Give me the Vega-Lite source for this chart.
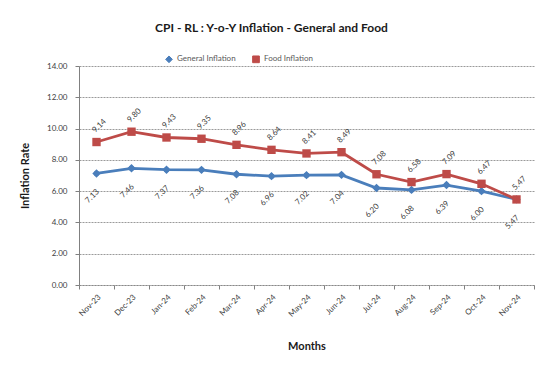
{
  "$schema": "https://vega.github.io/schema/vega-lite/v6.json",
  "autosize": {"type": "none"},
  "width": 455,
  "height": 219,
  "padding": {"left": 79, "top": 66, "right": 15, "bottom": 83},
  "background": "white",
  "config": {
    "font": "Lato",
    "view": {"stroke": null}
  },
  "title": {
    "text": "CPI - RL : Y-o-Y Inflation - General and Food",
    "fontSize": 12,
    "fontWeight": "bold",
    "color": "#1a1a1a",
    "offset": 20,
    "dx": -35,
    "anchor": "middle"
  },
  "data": {
    "values": [
      {"month": "Nov-23", "series": "General Inflation", "value": 7.13},
      {"month": "Dec-23", "series": "General Inflation", "value": 7.46},
      {"month": "Jan-24", "series": "General Inflation", "value": 7.37},
      {"month": "Feb-24", "series": "General Inflation", "value": 7.36},
      {"month": "Mar-24", "series": "General Inflation", "value": 7.08},
      {"month": "Apr-24", "series": "General Inflation", "value": 6.96},
      {"month": "May-24", "series": "General Inflation", "value": 7.02},
      {"month": "Jun-24", "series": "General Inflation", "value": 7.04},
      {"month": "Jul-24", "series": "General Inflation", "value": 6.20},
      {"month": "Aug-24", "series": "General Inflation", "value": 6.08},
      {"month": "Sep-24", "series": "General Inflation", "value": 6.39},
      {"month": "Oct-24", "series": "General Inflation", "value": 6.00},
      {"month": "Nov-24", "series": "General Inflation", "value": 5.47},
      {"month": "Nov-23", "series": "Food Inflation", "value": 9.14},
      {"month": "Dec-23", "series": "Food Inflation", "value": 9.80},
      {"month": "Jan-24", "series": "Food Inflation", "value": 9.43},
      {"month": "Feb-24", "series": "Food Inflation", "value": 9.35},
      {"month": "Mar-24", "series": "Food Inflation", "value": 8.96},
      {"month": "Apr-24", "series": "Food Inflation", "value": 8.64},
      {"month": "May-24", "series": "Food Inflation", "value": 8.41},
      {"month": "Jun-24", "series": "Food Inflation", "value": 8.49},
      {"month": "Jul-24", "series": "Food Inflation", "value": 7.08},
      {"month": "Aug-24", "series": "Food Inflation", "value": 6.58},
      {"month": "Sep-24", "series": "Food Inflation", "value": 7.09},
      {"month": "Oct-24", "series": "Food Inflation", "value": 6.47},
      {"month": "Nov-24", "series": "Food Inflation", "value": 5.47}
    ]
  },
  "encoding": {
    "x": {
      "field": "month",
      "type": "ordinal",
      "sort": ["Nov-23","Dec-23","Jan-24","Feb-24","Mar-24","Apr-24","May-24","Jun-24","Jul-24","Aug-24","Sep-24","Oct-24","Nov-24"],
      "scale": {"type": "band", "paddingInner": 0, "paddingOuter": 0},
      "axis": {
        "title": "Months",
        "titleFontSize": 11,
        "titleFontWeight": "bold",
        "titleColor": "#1a1a1a",
        "titlePadding": 22,
        "labelAngle": -45,
        "labelFontSize": 8,
        "labelColor": "#404040",
        "labelPadding": 4,
        "tickBand": "extent",
        "ticks": true,
        "tickSize": 4,
        "tickColor": "#808080",
        "domainColor": "#8a8a8a",
        "domainDash": [2, 1],
        "grid": false
      }
    },
    "y": {
      "field": "value",
      "type": "quantitative",
      "scale": {"domain": [0, 14]},
      "axis": {
        "title": "Inflation Rate",
        "titleFontSize": 11,
        "titleFontWeight": "bold",
        "titleColor": "#1a1a1a",
        "titlePadding": 16,
        "values": [0, 2, 4, 6, 8, 10, 12, 14],
        "format": ".2f",
        "labelFontSize": 8,
        "labelColor": "#404040",
        "labelPadding": 8,
        "tickSize": 4,
        "tickColor": "#808080",
        "domainColor": "#808080",
        "grid": true,
        "gridColor": "#9a9a9a",
        "gridDash": [2, 1],
        "gridWidth": 1
      }
    },
    "color": {
      "field": "series",
      "type": "nominal",
      "scale": {"domain": ["General Inflation", "Food Inflation"], "range": ["#4A7EBB", "#BE4B48"]},
      "legend": {
        "title": null,
        "orient": "none",
        "direction": "horizontal",
        "legendX": 86,
        "legendY": -11,
        "labelFontSize": 8,
        "labelColor": "#595959",
        "symbolSize": 45,
        "columnPadding": 14,
        "symbolStrokeWidth": 1
      }
    },
    "shape": {
      "field": "series",
      "type": "nominal",
      "scale": {"domain": ["General Inflation", "Food Inflation"], "range": ["diamond", "square"]},
      "legend": null
    }
  },
  "layer": [
    {
      "mark": {"type": "line", "strokeWidth": 2.8},
      "encoding": {"shape": {"value": null}}
    },
    {
      "mark": {"type": "point", "filled": true, "size": 70, "opacity": 1}
    },
    {
      "transform": [{"filter": "datum.series === 'General Inflation'"}],
      "mark": {"type": "text", "angle": -45, "fontSize": 8, "color": "#404040", "align": "center", "baseline": "middle", "xOffset": -4, "yOffset": 23},
      "encoding": {
        "text": {"field": "value", "type": "quantitative", "format": ".2f"},
        "color": {"value": "#404040"},
        "shape": {"value": null}
      }
    },
    {
      "transform": [{"filter": "datum.series === 'Food Inflation'"}],
      "mark": {"type": "text", "angle": -45, "fontSize": 8, "color": "#404040", "align": "center", "baseline": "middle", "xOffset": 3, "yOffset": -16},
      "encoding": {
        "text": {"field": "value", "type": "quantitative", "format": ".2f"},
        "color": {"value": "#404040"},
        "shape": {"value": null}
      }
    }
  ]
}
